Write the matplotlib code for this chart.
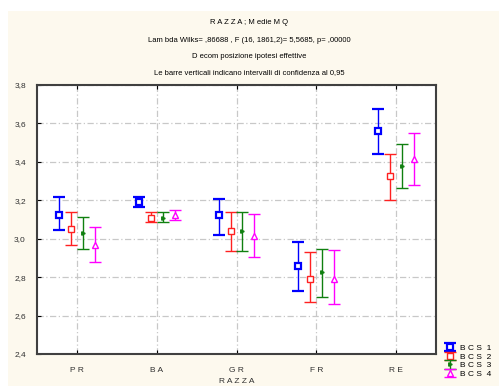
import numpy as np
import matplotlib.pyplot as plt
from matplotlib.patches import Rectangle

plt.rcParams['font.family'] = ['Liberation Sans', 'DejaVu Sans']

# categorie e serie
razze = ['P R', 'B A', 'G R', 'F R', 'R E']
serie = ['B C S  1', 'B C S  2', 'B C S  3', 'B C S  4']

# medie e limiti di confidenza
bcs1_media = [3.126, 3.193, 3.122, 2.858, 3.561]
bcs1_inf = [3.043, 3.166, 3.017, 2.730, 3.443]
bcs1_sup = [3.216, 3.216, 3.209, 2.982, 3.677]

bcs2_media = [3.048, 3.109, 3.039, 2.792, 3.326]
bcs2_inf = [2.965, 3.088, 2.938, 2.672, 3.200]
bcs2_sup = [3.138, 3.140, 3.140, 2.930, 3.443]

bcs3_media = [3.031, 3.109, 3.039, 2.827, 3.379]
bcs3_inf = [2.948, 3.088, 2.938, 2.696, 3.262]
bcs3_sup = [3.112, 3.140, 3.140, 2.946, 3.495]

bcs4_media = [2.969, 3.123, 3.013, 2.792, 3.415]
bcs4_inf = [2.879, 3.098, 2.905, 2.661, 3.278]
bcs4_sup = [3.060, 3.150, 3.130, 2.940, 3.549]

medie = [bcs1_media, bcs2_media, bcs3_media, bcs4_media]
inferiori = [bcs1_inf, bcs2_inf, bcs3_inf, bcs4_inf]
superiori = [bcs1_sup, bcs2_sup, bcs3_sup, bcs4_sup]

colori = ['#0000ff', '#ff2020', '#108010', '#ff00ff']
marker = ['s', 's', '>', '^']
riempimento = ['white', 'white', '#108010', 'white']
msize = [4, 4.5, 2.5, 4]
mew = [1.6, 1.0, 1.0, 1.0]
offset = [-0.225, -0.075, 0.075, 0.225]

fig = plt.figure(figsize=(4.99, 3.88), dpi=100)
fig.patches.append(Rectangle((8 / 499, 2 / 388), 1, 375 / 388, transform=fig.transFigure,
                             facecolor='#fdf9ee', edgecolor='none', zorder=-10))

ax = fig.add_axes([37 / 499, 1 - 354 / 388, 399 / 499, 269 / 388])
x = np.arange(len(razze))
for i in range(4):
    m = np.array(medie[i])
    lo = m - np.array(inferiori[i])
    hi = np.array(superiori[i]) - m
    ax.errorbar(x + offset[i], m, yerr=[lo, hi], fmt=marker[i], color=colori[i],
                ecolor=colori[i], markerfacecolor=riempimento[i],
                markeredgewidth=mew[i], markersize=msize[i],
                elinewidth=1, capsize=4, capthick=1, zorder=3, label=serie[i])

ax.set_xlim(-0.5, 4.5)
ax.set_ylim(2.4, 3.8)
yt = np.arange(2.4, 3.81, 0.2)
ax.set_yticks(yt)
ax.set_yticklabels([('%.1f' % v).replace('.', ',') for v in yt], fontsize=6, color='#303030')
ax.set_xticks(x)
ax.set_xticklabels(razze, fontsize=6, color='#303030')
ax.tick_params(axis='x', direction='in', top=True, length=3, pad=9)
ax.tick_params(axis='y', direction='in', length=3, pad=8)
ax.grid(True, color='#c8c8c8', linestyle=(0, (5, 2, 1, 2)), linewidth=0.9)
ax.set_axisbelow(True)
for s in ax.spines.values():
    s.set_color('#404040')
    s.set_linewidth(1.5)
ax.set_xlabel('R A Z Z A', fontsize=6, labelpad=3, color='#303030')

# legenda
leg = ax.legend(loc='lower left', bbox_to_anchor=(1.01, -0.105), fontsize=6,
                frameon=False, handlelength=1.4, handletextpad=0.5,
                labelspacing=0.1, borderpad=0)

# titoli
fig.text(0.5, 1 - 22 / 388, 'R A Z Z A ; M edie M Q', ha='center', va='center', fontsize=5.5)
fig.text(0.5, 1 - 40 / 388, 'Lam bda Wilks= ,86688 , F (16, 1861,2)= 5,5685, p= ,00000',
         ha='center', va='center', fontsize=5.5)
fig.text(0.5, 1 - 57 / 388, 'D ecom posizione ipotesi effettive', ha='center', va='center', fontsize=5.5)
fig.text(0.5, 1 - 73 / 388, 'Le barre verticali indicano intervalli di confidenza al 0,95',
         ha='center', va='center', fontsize=5.5)

plt.savefig('out.png', dpi=100, facecolor='white')
